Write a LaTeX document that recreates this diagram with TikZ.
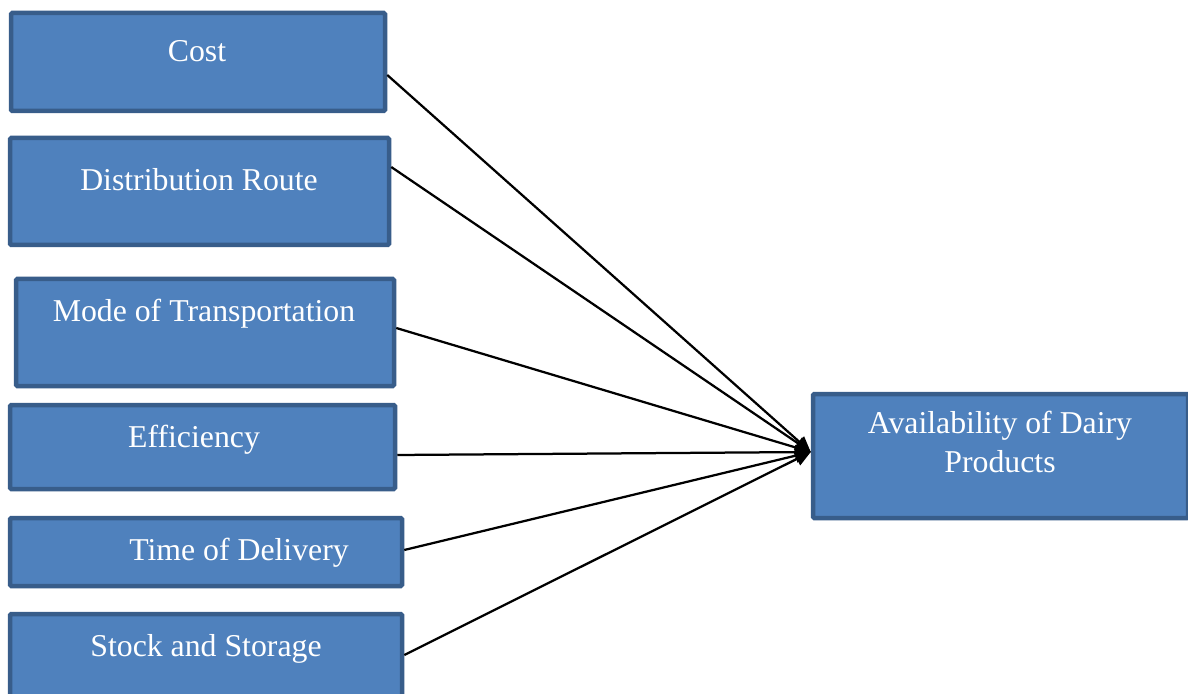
\documentclass[tikz,border=0pt]{standalone}
\usepackage{fontspec}
\setmainfont{Liberation Serif}
\usetikzlibrary{arrows.meta}
\definecolor{boxfill}{HTML}{4F81BD}
\definecolor{boxline}{HTML}{385D8A}
\tikzset{
  factor/.style={draw=boxline, fill=boxfill, line width=3.2pt, rounded corners=1pt, inner sep=0pt},
  factortext/.style={text=white, font=\fontsize{22.6}{27}\selectfont, anchor=base, inner sep=0pt},
  link/.style={line width=1.6pt, -{Triangle[length=11pt,width=10pt]}}
}
\begin{document}
\begin{tikzpicture}[x=0.025cm, y=-0.025cm]
\fill[white] (0,0) rectangle (1188,694);
\useasboundingbox (0,0) rectangle (1188,694);
% factor boxes
\node[factor, minimum width=374*0.025cm, minimum height=98*0.025cm] (cost) at (198,62) {};
\node[factor, minimum width=379*0.025cm, minimum height=107*0.025cm] (route) at (199.5,191.5) {};
\node[factor, minimum width=378*0.025cm, minimum height=107*0.025cm] (mode) at (205,332.5) {};
\node[factor, minimum width=385*0.025cm, minimum height=84*0.025cm] (effic) at (202.5,447) {};
\node[factor, minimum width=392*0.025cm, minimum height=68*0.025cm] (time) at (206,552) {};
\node[factor, minimum width=392*0.025cm, minimum height=84*0.025cm] (stock) at (206,656) {};
\node[factor, minimum width=375*0.025cm, minimum height=124*0.025cm] (avail) at (1000.5,456) {};
% texts
\node[factortext] (costtext) at (197,62) {Cost};
\node[factortext] (routetext) at (199,191) {Distribution Route};
\node[factortext] (modetext) at (204,321) {Mode of Transportation};
\node[factortext] (efficText) at (194,447) {Efficiency};
\node[factortext] (timetext) at (239,560) {Time of Delivery};
\node[factortext] (stocktext) at (206,656) {Stock and Storage};
\node[factortext] (availtext1) at (1000,433) {Availability of Dairy};
\node[factortext] (availtext2) at (1000,472) {Products};
% links
\coordinate (hub) at (avail.west |- 0,452);
\draw[link] (cost.east |- 0,75) -- (hub);
\draw[link] (route.east |- 0,167) -- (hub);
\draw[link] (mode.east |- 0,328) -- (hub);
\draw[link] (effic.east |- 0,455) -- (hub);
\draw[link] (time.east |- 0,550) -- (hub);
\draw[link] (stock.east |- 0,655) -- (hub);
\end{tikzpicture}
\end{document}
